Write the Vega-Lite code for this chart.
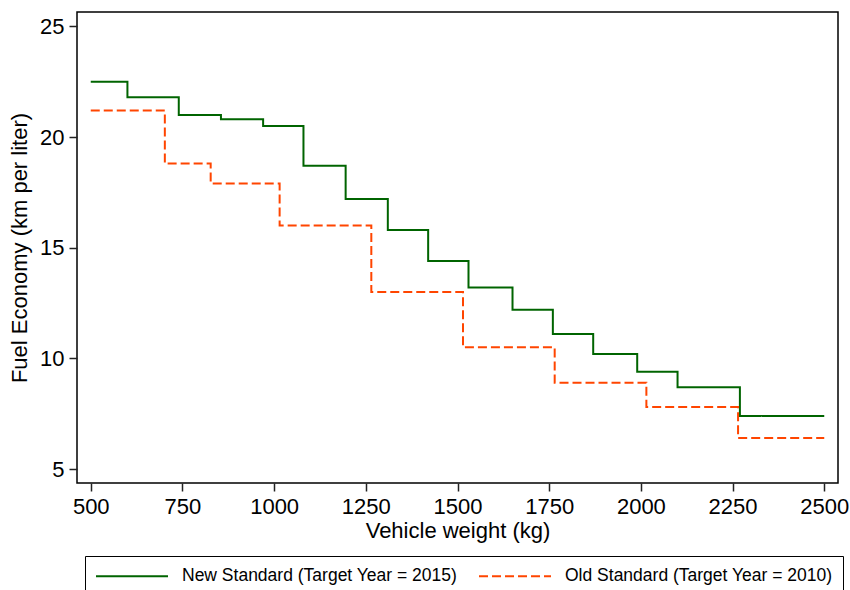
{
  "$schema": "https://vega.github.io/schema/vega-lite/v6.json",
  "autosize": "none",
  "width": 761,
  "height": 471,
  "padding": {"left": 77, "top": 12, "right": 12, "bottom": 107},
  "background": "white",
  "config": {
    "font": "Liberation Sans",
    "view": {"stroke": "black", "strokeWidth": 1.5},
    "axis": {
      "domain": false,
      "grid": false,
      "tickColor": "#222",
      "tickSize": 8,
      "tickWidth": 1.5,
      "labelFont": "Liberation Sans",
      "labelFontSize": 22,
      "labelColor": "black",
      "labelPadding": 5,
      "titleFont": "Liberation Sans",
      "titleFontSize": 22,
      "titleFontWeight": "normal",
      "titleColor": "black"
    }
  },
  "data": {
    "values": [
      {"weight": 500, "economy": 22.5, "series": "New Standard (Target Year = 2015)"},
      {"weight": 600, "economy": 21.8, "series": "New Standard (Target Year = 2015)"},
      {"weight": 740, "economy": 21.0, "series": "New Standard (Target Year = 2015)"},
      {"weight": 855, "economy": 20.8, "series": "New Standard (Target Year = 2015)"},
      {"weight": 970, "economy": 20.5, "series": "New Standard (Target Year = 2015)"},
      {"weight": 1080, "economy": 18.7, "series": "New Standard (Target Year = 2015)"},
      {"weight": 1195, "economy": 17.2, "series": "New Standard (Target Year = 2015)"},
      {"weight": 1310, "economy": 15.8, "series": "New Standard (Target Year = 2015)"},
      {"weight": 1420, "economy": 14.4, "series": "New Standard (Target Year = 2015)"},
      {"weight": 1530, "economy": 13.2, "series": "New Standard (Target Year = 2015)"},
      {"weight": 1650, "economy": 12.2, "series": "New Standard (Target Year = 2015)"},
      {"weight": 1760, "economy": 11.1, "series": "New Standard (Target Year = 2015)"},
      {"weight": 1870, "economy": 10.2, "series": "New Standard (Target Year = 2015)"},
      {"weight": 1990, "economy": 9.4, "series": "New Standard (Target Year = 2015)"},
      {"weight": 2100, "economy": 8.7, "series": "New Standard (Target Year = 2015)"},
      {"weight": 2270, "economy": 7.4, "series": "New Standard (Target Year = 2015)"},
      {"weight": 2500, "economy": 7.4, "series": "New Standard (Target Year = 2015)"},
      {"weight": 500, "economy": 21.2, "series": "Old Standard (Target Year = 2010)"},
      {"weight": 702, "economy": 18.8, "series": "Old Standard (Target Year = 2010)"},
      {"weight": 827, "economy": 17.9, "series": "Old Standard (Target Year = 2010)"},
      {"weight": 1015, "economy": 16.0, "series": "Old Standard (Target Year = 2010)"},
      {"weight": 1265, "economy": 13.0, "series": "Old Standard (Target Year = 2010)"},
      {"weight": 1515, "economy": 10.5, "series": "Old Standard (Target Year = 2010)"},
      {"weight": 1765, "economy": 8.9, "series": "Old Standard (Target Year = 2010)"},
      {"weight": 2015, "economy": 7.8, "series": "Old Standard (Target Year = 2010)"},
      {"weight": 2265, "economy": 6.4, "series": "Old Standard (Target Year = 2010)"},
      {"weight": 2500, "economy": 6.4, "series": "Old Standard (Target Year = 2010)"}
    ]
  },
  "mark": {"type": "line", "interpolate": "step-after", "strokeWidth": 2},
  "encoding": {
    "x": {
      "field": "weight",
      "type": "quantitative",
      "title": "Vehicle weight (kg)",
      "scale": {"domain": [462.5, 2537.5], "nice": false, "zero": false},
      "axis": {"values": [500, 750, 1000, 1250, 1500, 1750, 2000, 2250, 2500], "format": "d", "titlePadding": 3}
    },
    "y": {
      "field": "economy",
      "type": "quantitative",
      "title": "Fuel Economy (km per liter)",
      "scale": {"domain": [4.37, 25.65], "nice": false, "zero": false},
      "axis": {"values": [5, 10, 15, 20, 25], "format": "d", "titlePadding": 8}
    },
    "color": {
      "field": "series",
      "type": "nominal",
      "scale": {
        "domain": ["New Standard (Target Year = 2015)", "Old Standard (Target Year = 2010)"],
        "range": ["#006400", "#FF4500"]
      },
      "legend": {
        "title": null,
        "orient": "none",
        "legendX": 8,
        "legendY": 544,
        "direction": "horizontal",
        "symbolType": "M-1,0H7",
        "symbolSize": 324,
        "symbolStrokeWidth": 2,
        "symbolFillColor": "transparent",
        "labelFont": "Liberation Sans",
        "labelFontSize": 17.5,
        "labelColor": "black",
        "labelOffset": 67,
        "labelLimit": 400,
        "columnPadding": 17,
        "padding": 10,
        "strokeColor": "black",
        "fillColor": "white"
      }
    },
    "strokeDash": {
      "field": "series",
      "type": "nominal",
      "scale": {
        "domain": ["New Standard (Target Year = 2015)", "Old Standard (Target Year = 2010)"],
        "range": [[1, 0], [9, 4]]
      },
      "legend": {
        "title": null,
        "orient": "none",
        "legendX": 8,
        "legendY": 544,
        "direction": "horizontal",
        "symbolType": "M-1,0H7",
        "symbolSize": 324,
        "symbolStrokeWidth": 2,
        "symbolFillColor": "transparent",
        "labelFont": "Liberation Sans",
        "labelFontSize": 17.5,
        "labelColor": "black",
        "labelOffset": 67,
        "labelLimit": 400,
        "columnPadding": 17,
        "padding": 10,
        "strokeColor": "black",
        "fillColor": "white"
      }
    }
  }
}
